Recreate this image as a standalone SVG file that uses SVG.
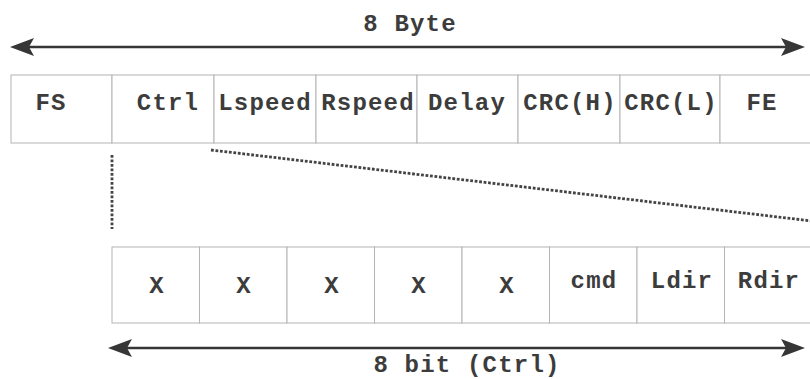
<svg xmlns="http://www.w3.org/2000/svg" width="810" height="379" viewBox="0 0 810 379">
  <style>
    .lbl { font-family: "Liberation Mono", "Courier New", monospace; font-weight: bold; font-size: 24px; letter-spacing: 1.2px; fill: #3c3c3c; text-anchor: middle; }
    .cell { fill: #ffffff; stroke: #b4b4b4; stroke-width: 1; }
    .arrow { stroke: #363636; stroke-width: 2.6; fill: none; }
    .head { fill: #363636; }
    .dots { stroke: #444444; stroke-width: 2.8; fill: none; stroke-dasharray: 2.8 1.7; }
  </style>
  <defs>
    <path id="ah" d="M0,0 L-24,-9 L-19,0 L-24,9 Z"/>
  </defs>
  <rect width="810" height="379" fill="#ffffff"/>

  <g id="byte-table">
    <g id="f-fs"><rect class="cell" x="11" y="75" width="101" height="68"/><text class="lbl" x="51" y="110">FS</text></g>
    <g id="f-ctrl"><rect class="cell" x="112" y="75" width="102" height="68"/><text class="lbl" x="168" y="110">Ctrl</text></g>
    <g id="f-lspeed"><rect class="cell" x="214" y="75" width="102" height="68"/><text class="lbl" x="265" y="110">Lspeed</text></g>
    <g id="f-rspeed"><rect class="cell" x="316" y="75" width="101" height="68"/><text class="lbl" x="368" y="110">Rspeed</text></g>
    <g id="f-delay"><rect class="cell" x="417" y="75" width="101" height="68"/><text class="lbl" x="467" y="110">Delay</text></g>
    <g id="f-crch"><rect class="cell" x="518" y="75" width="102" height="68"/><text class="lbl" x="570" y="110">CRC(H)</text></g>
    <g id="f-crcl"><rect class="cell" x="620" y="75" width="100" height="68"/><text class="lbl" x="671" y="110">CRC(L)</text></g>
    <g id="f-fe"><rect class="cell" x="720" y="75" width="100" height="68"/><text class="lbl" x="762" y="110">FE</text></g>
  </g>

  <g id="bit-table">
    <g id="b7"><rect class="cell" x="112" y="247" width="87.5" height="76"/><text class="lbl" x="157" y="293">X</text></g>
    <g id="b6"><rect class="cell" x="199.5" y="247" width="87.5" height="76"/><text class="lbl" x="244" y="293">X</text></g>
    <g id="b5"><rect class="cell" x="287" y="247" width="87.5" height="76"/><text class="lbl" x="332" y="293">X</text></g>
    <g id="b4"><rect class="cell" x="374.5" y="247" width="87.5" height="76"/><text class="lbl" x="419" y="293">X</text></g>
    <g id="b3"><rect class="cell" x="462" y="247" width="87.5" height="76"/><text class="lbl" x="507" y="293">X</text></g>
    <g id="b2"><rect class="cell" x="549.5" y="247" width="87.5" height="76"/><text class="lbl" x="594" y="288">cmd</text></g>
    <g id="b1"><rect class="cell" x="637" y="247" width="87.5" height="76"/><text class="lbl" x="682" y="288">Ldir</text></g>
    <g id="b0"><rect class="cell" x="724.5" y="247" width="87.5" height="76"/><text class="lbl" x="769" y="288">Rdir</text></g>
  </g>

  <g id="connectors">
    <line class="arrow" x1="28" y1="47" x2="787" y2="47"/>
    <use href="#ah" class="head" transform="translate(805,47)"/>
    <use href="#ah" class="head" transform="translate(10,47) scale(-1,1)"/>
    <line class="arrow" x1="126" y1="348" x2="787" y2="348"/>
    <use href="#ah" class="head" transform="translate(805,348)"/>
    <use href="#ah" class="head" transform="translate(108,348) scale(-1,1)"/>
    <line class="dots" x1="112" y1="155" x2="112" y2="229"/>
    <line class="dots" x1="211" y1="150" x2="812" y2="221"/>
  </g>

  <g id="labels">
    <text class="lbl" x="410" y="31">8 Byte</text>
    <text class="lbl" x="467" y="372">8 bit (Ctrl)</text>
  </g>
</svg>
